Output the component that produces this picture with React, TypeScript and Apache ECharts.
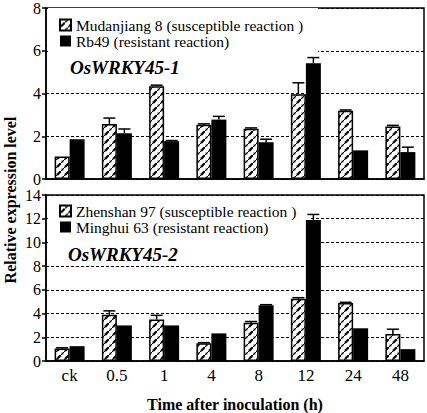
import React, { useEffect, useRef } from "react";
import * as echarts from "echarts";

const categories = ["ck", "0.5", "1", "4", "8", "12", "24", "48"];

const mudanjiang8 = [1.05, 2.57, 4.34, 2.54, 2.35, 3.96, 3.19, 2.46];
const mudanjiang8Err = [0, 0.28, 0.05, 0.04, 0.04, 0.54, 0.04, 0.05];
const rb49 = [1.86, 2.14, 1.77, 2.78, 1.72, 5.42, 1.34, 1.26];
const rb49Err = [0, 0.2, 0.03, 0.15, 0.14, 0.26, 0, 0.23];

const zhenshan97 = [1.06, 3.9, 3.5, 1.49, 3.23, 5.26, 4.9, 2.28];
const zhenshan97Err = [0.06, 0.33, 0.35, 0.06, 0.1, 0.08, 0.05, 0.4];
const minghui63 = [1.25, 3.0, 3.0, 2.33, 4.7, 11.9, 2.76, 1.0];
const minghui63Err = [0, 0, 0, 0, 0.05, 0.46, 0, 0];

const FONT = "Liberation Serif";
const BAR_W = 15;

function makeHatch() {
  const c = document.createElement("canvas");
  c.width = 8;
  c.height = 8;
  const g = c.getContext("2d")!;
  g.fillStyle = "#fff";
  g.fillRect(0, 0, 8, 8);
  g.strokeStyle = "#000";
  g.lineWidth = 2.2;
  g.lineCap = "butt";
  g.beginPath();
  g.moveTo(1, 7);
  g.lineTo(4.5, 3.5);
  g.moveTo(6, 2);
  g.lineTo(7, 1);
  g.stroke();
  g.lineWidth = 1;
  g.beginPath();
  g.moveTo(-1, 9);
  g.lineTo(9, -1);
  g.stroke();
  return { image: c, repeat: "repeat" };
}

function errSeries(name: string, values: number[], errs: number[], axis: number, offset: number) {
  return {
    type: "custom",
    name: name + "-err",
    xAxisIndex: axis,
    yAxisIndex: axis,
    z: 3,
    silent: true,
    data: values.map((v, i) => [i, v, errs[i]]),
    renderItem: (params: any, api: any) => {
      const i = api.value(0);
      const v = api.value(1);
      const e = api.value(2);
      if (!e) return null;
      const p0 = api.coord([i, v]);
      const p1 = api.coord([i, v + e]);
      const x = p0[0] + offset;
      const half = 6;
      return {
        type: "group",
        children: [
          { type: "line", shape: { x1: x, y1: p0[1], x2: x, y2: p1[1] }, style: { stroke: "#000", lineWidth: 1.5 } },
          { type: "line", shape: { x1: x - half, y1: p1[1], x2: x + half, y2: p1[1] }, style: { stroke: "#000", lineWidth: 1.5 } },
        ],
      };
    },
  };
}

export default function App() {
  const ref = useRef<HTMLDivElement>(null);
  useEffect(() => {
    const chart = echarts.init(ref.current!, null, { renderer: "svg" });
    const hatch = makeHatch();
    const xAxisBase = {
      type: "category",
      data: categories,
      axisLine: { lineStyle: { color: "#000", width: 1.5 } },
      axisTick: { inside: true, length: 5, lineStyle: { color: "#000", width: 1.5 } },
      splitLine: { show: false },
    };
    const yAxisBase = {
      type: "value",
      min: 0,
      interval: 2,
      axisLine: { show: true, lineStyle: { color: "#000", width: 1.5 } },
      axisTick: { show: true, inside: false, length: 4, lineStyle: { color: "#000", width: 1.5 } },
      axisLabel: { color: "#000", fontFamily: FONT, fontSize: 16, margin: 5 },
      splitLine: { show: true, lineStyle: { color: "#000", type: [3, 2], width: 1 } },
    };
    const legendText = { color: "#000", fontFamily: FONT, fontSize: 15.5, lineHeight: 16 };
    chart.setOption({
      animation: false,
      backgroundColor: "#fff",
      textStyle: { fontFamily: FONT },
      grid: [
        { left: 46, right: 3, top: 5, height: 174, show: true, borderColor: "#000", borderWidth: 1.5, backgroundColor: "transparent" },
        { left: 46, right: 3, top: 195, height: 173, show: true, borderColor: "#000", borderWidth: 1.5, backgroundColor: "transparent" },
      ],
      xAxis: [
        { ...xAxisBase, gridIndex: 0, axisLabel: { show: false } },
        {
          ...xAxisBase,
          gridIndex: 1,
          axisLabel: { color: "#000", fontFamily: FONT, fontSize: 17, margin: 6 },
          name: "Time after inoculation (h)",
          nameLocation: "middle",
          nameGap: 35,
          nameTextStyle: { color: "#000", fontFamily: FONT, fontSize: 16, fontWeight: "bold" },
        },
      ],
      yAxis: [
        { ...yAxisBase, gridIndex: 0, max: 8 },
        { ...yAxisBase, gridIndex: 1, max: 14 },
      ],
      legend: [
        {
          data: ["Mudanjiang 8 (susceptible reaction )", "Rb49 (resistant reaction)"],
          orient: "vertical",
          left: 54,
          top: 12,
          itemWidth: 11,
          itemHeight: 11,
          itemGap: 0,
          textStyle: legendText,
          icon: "rect",
        },
        {
          data: ["Zhenshan 97 (susceptible reaction )", "Minghui 63 (resistant reaction)"],
          orient: "vertical",
          left: 54,
          top: 198,
          itemWidth: 11,
          itemHeight: 11,
          itemGap: 0,
          textStyle: legendText,
          icon: "rect",
        },
      ],
      graphic: [
        { type: "rect", z: 1, shape: { x: 48, y: 8, width: 270, height: 62 }, style: { fill: "#fff" } },
        { type: "rect", z: 1, shape: { x: 48, y: 198, width: 262, height: 34 }, style: { fill: "#fff" } },
        { type: "rect", z: 1, shape: { x: 48, y: 232, width: 272, height: 30 }, style: { fill: "#fff" } },
        {
          type: "text", z: 5, x: 70, y: 67,
          style: { text: "OsWRKY45-1", font: `italic bold 19px ${FONT}`, fill: "#000", textVerticalAlign: "middle" },
        },
        {
          type: "text", z: 5, x: 68, y: 254,
          style: { text: "OsWRKY45-2", font: `italic bold 19px ${FONT}`, fill: "#000", textVerticalAlign: "middle" },
        },
        {
          type: "text", z: 5, x: 10, y: 200, rotation: Math.PI / 2,
          style: { text: "Relative expression level", font: `bold 16px ${FONT}`, fill: "#000", textAlign: "center", textVerticalAlign: "middle" },
        },
      ],
      series: [
        {
          type: "bar", name: "Mudanjiang 8 (susceptible reaction )", xAxisIndex: 0, yAxisIndex: 0,
          data: mudanjiang8, barWidth: BAR_W, barGap: "0%",
          itemStyle: { color: hatch, borderColor: "#000", borderWidth: 1.5 },
        },
        {
          type: "bar", name: "Rb49 (resistant reaction)", xAxisIndex: 0, yAxisIndex: 0,
          data: rb49, barWidth: BAR_W, barGap: "0%",
          itemStyle: { color: "#000" },
        },
        {
          type: "bar", name: "Zhenshan 97 (susceptible reaction )", xAxisIndex: 1, yAxisIndex: 1,
          data: zhenshan97, barWidth: BAR_W, barGap: "0%",
          itemStyle: { color: hatch, borderColor: "#000", borderWidth: 1.5 },
        },
        {
          type: "bar", name: "Minghui 63 (resistant reaction)", xAxisIndex: 1, yAxisIndex: 1,
          data: minghui63, barWidth: BAR_W, barGap: "0%",
          itemStyle: { color: "#000" },
        },
        errSeries("m8", mudanjiang8, mudanjiang8Err, 0, -BAR_W / 2),
        errSeries("rb", rb49, rb49Err, 0, BAR_W / 2),
        errSeries("zs", zhenshan97, zhenshan97Err, 1, -BAR_W / 2),
        errSeries("mh", minghui63, minghui63Err, 1, BAR_W / 2),
      ],
    });
    return () => chart.dispose();
  }, []);
  return <div ref={ref} style={{ width: 427, height: 413, position: "absolute", left: 0, top: 0 }} />;
}
